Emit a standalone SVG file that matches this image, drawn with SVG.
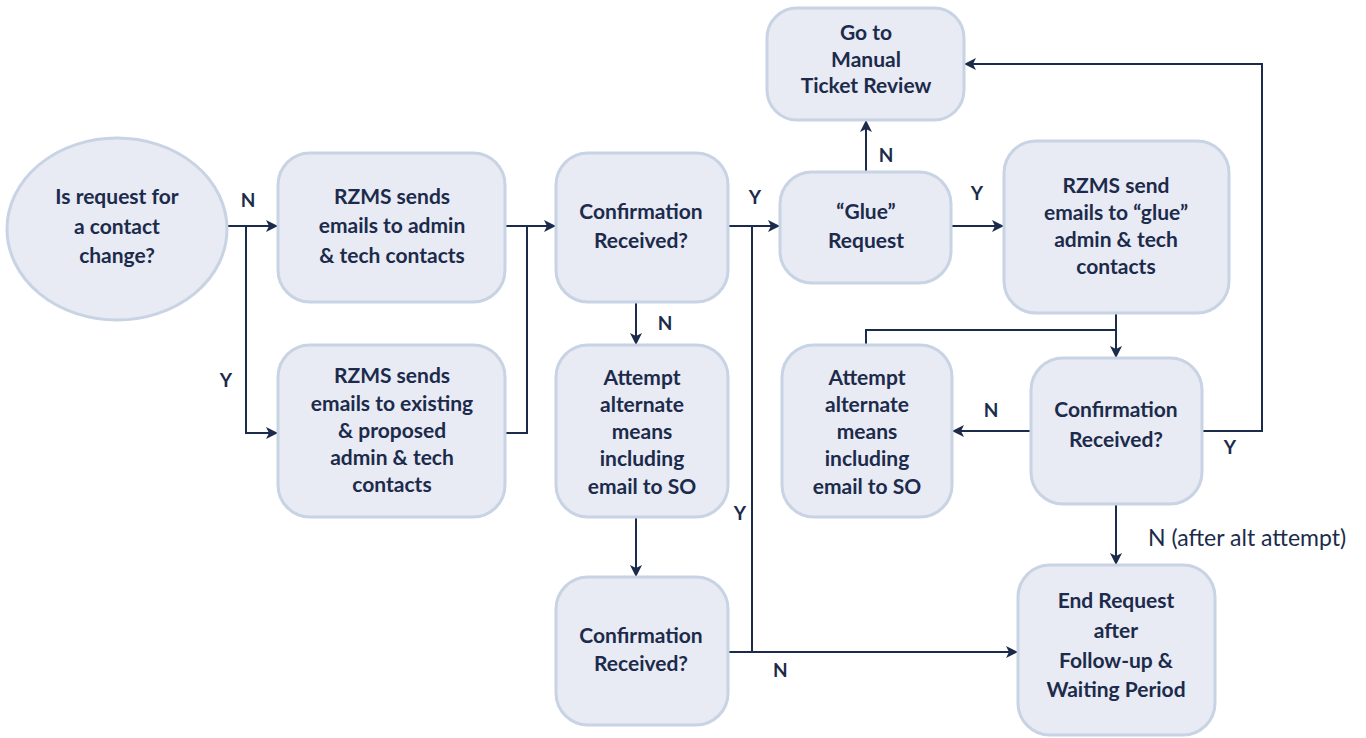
<svg xmlns="http://www.w3.org/2000/svg" width="1366" height="738" viewBox="0 0 1366 738">
<defs>
<marker id="arr" viewBox="0 0 12 12" refX="11" refY="6" markerWidth="12" markerHeight="12" markerUnits="userSpaceOnUse" orient="auto">
<path d="M0,0 L12,6 L0,12 L3,6 Z" fill="#1c2b4b"/>
</marker>
<style>
.n{fill:#e8eaf4;stroke:#c8d3e4;stroke-width:3}
.t{font-family:Lato,"Liberation Sans",sans-serif;font-weight:bold;font-size:21px;fill:#1c2b4b;text-anchor:middle}
.l{font-family:Lato,"Liberation Sans",sans-serif;font-weight:bold;font-size:19px;fill:#1c2b4b;text-anchor:middle}
.lr{font-family:Lato,"Liberation Sans",sans-serif;font-weight:bold;font-size:19px;fill:#1c2b4b}
.c{fill:none;stroke:#1c2b4b;stroke-width:2}
.a{marker-end:url(#arr)}
</style>
</defs>
<rect width="1366" height="738" fill="#ffffff"/>
<g id="connectors">
<path class="c a" d="M227,226 H277"/>
<path class="c a" d="M246,226 V433 H277"/>
<path class="c a" d="M505,226 H555"/>
<path class="c" d="M505,433 H527 V226"/>
<path class="c a" d="M728,226 H779"/>
<path class="c" d="M752,226 V652"/>
<path class="c a" d="M728,652 H1017"/>
<path class="c a" d="M636,302 V344"/>
<path class="c a" d="M636,517 V576"/>
<path class="c a" d="M866,172 V121"/>
<path class="c a" d="M951,226 H1003"/>
<path class="c a" d="M1116,313 V357"/>
<path class="c" d="M1116,330 H866 V348"/>
<path class="c a" d="M1031,431 H953"/>
<path class="c a" d="M1202,431 H1262 V64 H965"/>
<path class="c a" d="M1116,504 V564"/>
<text class="l" x="248" y="207">N</text>
<text class="l" x="226" y="387">Y</text>
<text class="l" x="755" y="204">Y</text>
<text class="l" x="740" y="520">Y</text>
<text class="lr" x="773" y="677" font-weight="normal">N</text>
<text class="l" x="665" y="330">N</text>
<text class="l" x="886" y="162">N</text>
<text class="l" x="977" y="200">Y</text>
<text class="l" x="991" y="417">N</text>
<text class="l" x="1230" y="454">Y</text>
<text class="lr" x="1148" y="546" style="font-size:23px;font-weight:normal">N (after alt attempt)</text>
</g>
<g id="start">
<ellipse class="n" cx="117" cy="229" rx="110" ry="91"/>
<text class="t" x="117" y="204">Is request for</text>
<text class="t" x="117" y="234">a contact</text>
<text class="t" x="117" y="263">change?</text>
</g>
<g id="send1">
<rect class="n" x="278" y="153" width="227" height="149" rx="32"/>
<text class="t" x="392" y="204">RZMS sends</text>
<text class="t" x="392" y="233">emails to admin</text>
<text class="t" x="392" y="263">&amp; tech contacts</text>
</g>
<g id="send2">
<rect class="n" x="278" y="345" width="227" height="172" rx="32"/>
<text class="t" x="392" y="383">RZMS sends</text>
<text class="t" x="392" y="411">emails to existing</text>
<text class="t" x="392" y="438">&amp; proposed</text>
<text class="t" x="392" y="465">admin &amp; tech</text>
<text class="t" x="392" y="492">contacts</text>
</g>
<g id="confirm1">
<rect class="n" x="556" y="153" width="172" height="149" rx="32"/>
<text class="t" x="641" y="219">Confirmation</text>
<text class="t" x="641" y="248">Received?</text>
</g>
<g id="alt1">
<rect class="n" x="556" y="345" width="172" height="172" rx="32"/>
<text class="t" x="642" y="385">Attempt</text>
<text class="t" x="642" y="412">alternate</text>
<text class="t" x="642" y="439">means</text>
<text class="t" x="642" y="466">including</text>
<text class="t" x="642" y="494">email to SO</text>
</g>
<g id="confirm2">
<rect class="n" x="556" y="577" width="172" height="148" rx="32"/>
<text class="t" x="641" y="643">Confirmation</text>
<text class="t" x="641" y="671">Received?</text>
</g>
<g id="glue">
<rect class="n" x="780" y="172" width="171" height="111" rx="32"/>
<text class="t" x="866" y="219">“Glue”</text>
<text class="t" x="866" y="248">Request</text>
</g>
<g id="manual">
<rect class="n" x="767" y="8" width="197" height="112" rx="30"/>
<text class="t" x="866" y="40">Go to</text>
<text class="t" x="866" y="67">Manual</text>
<text class="t" x="866" y="93">Ticket Review</text>
</g>
<g id="send3">
<rect class="n" x="1004" y="141" width="225" height="172" rx="32"/>
<text class="t" x="1116" y="193">RZMS send</text>
<text class="t" x="1116" y="220">emails to “glue”</text>
<text class="t" x="1116" y="247">admin &amp; tech</text>
<text class="t" x="1116" y="274">contacts</text>
</g>
<g id="alt2">
<rect class="n" x="782" y="345" width="170" height="172" rx="32"/>
<text class="t" x="867" y="385">Attempt</text>
<text class="t" x="867" y="412">alternate</text>
<text class="t" x="867" y="439">means</text>
<text class="t" x="867" y="466">including</text>
<text class="t" x="867" y="494">email to SO</text>
</g>
<g id="confirm3">
<rect class="n" x="1031" y="358" width="171" height="146" rx="32"/>
<text class="t" x="1116" y="417">Confirmation</text>
<text class="t" x="1116" y="447">Received?</text>
</g>
<g id="end">
<rect class="n" x="1018" y="565" width="197" height="170" rx="32"/>
<text class="t" x="1116" y="608">End Request</text>
<text class="t" x="1116" y="638">after</text>
<text class="t" x="1116" y="668">Follow-up &amp;</text>
<text class="t" x="1116" y="697">Waiting Period</text>
</g>
</svg>
